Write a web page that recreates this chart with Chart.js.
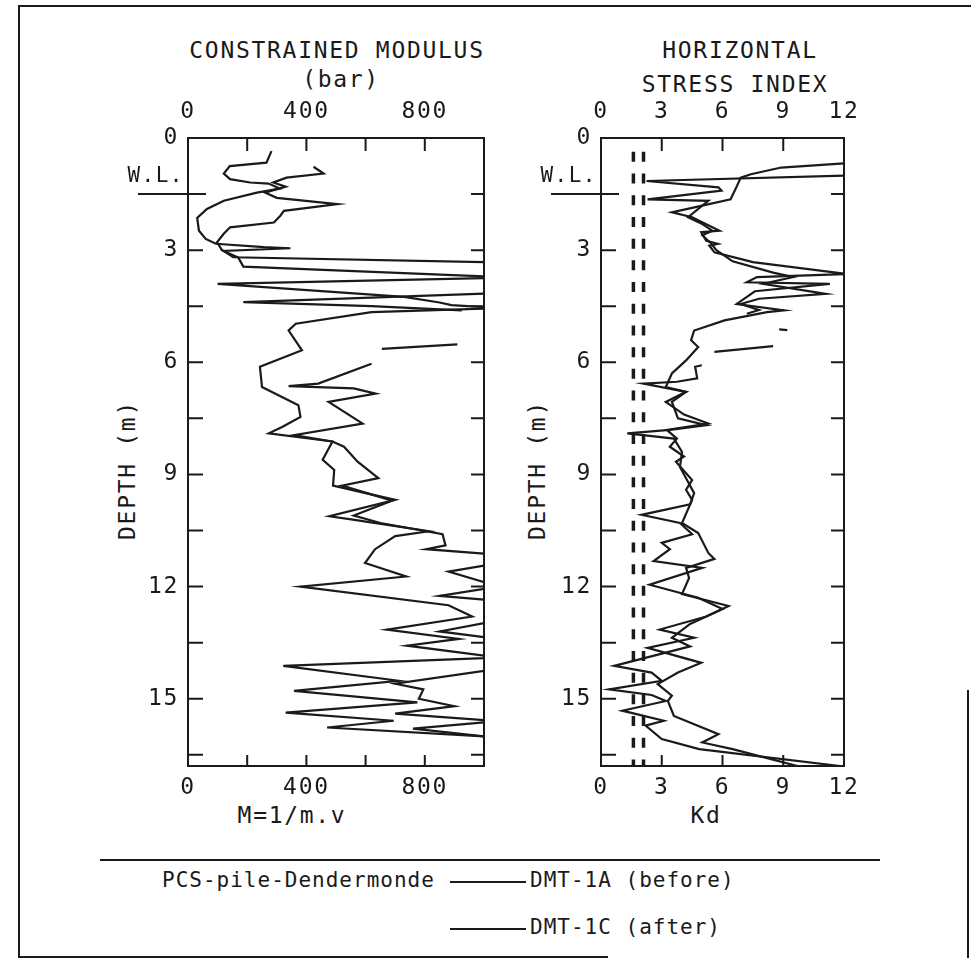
<!DOCTYPE html>
<html>
<head>
<meta charset="utf-8">
<script src="https://cdn.jsdelivr.net/npm/chart.js@4.4.0/dist/chart.umd.min.js"></script>
<style>
  body { margin: 0; background: #fff; }
  #page { position: relative; width: 971px; height: 966px; overflow: hidden;
          font-family: 'DejaVu Sans Mono', monospace; color: #1a1a1a; }
  .t { position: absolute; font-size: 23px; letter-spacing: 1.7px; white-space: nowrap;
       line-height: 1; transform: translate(-50%, -50%); }
  .leg { font-size: 21px; letter-spacing: 1px; }
  .l { transform: translate(0, -50%); }
  .rot { transform: translate(-50%, -50%) rotate(-90deg); }
  .rule { position: absolute; background: #1a1a1a; }
  canvas { position: absolute; top: 0; }
</style>
</head>
<body>
<div id="page">
  <div class="rule" style="left:20px;top:5px;width:951px;height:2px"></div>
  <div class="rule" style="left:18px;top:5px;width:2px;height:953px"></div>
  <div class="rule" style="left:18px;top:956px;width:590px;height:2px"></div>
  <div class="rule" style="left:967px;top:690px;width:2px;height:268px"></div>

  <div class="t" style="left:337px;top:50px">CONSTRAINED MODULUS</div>
  <div class="t" style="left:341px;top:79px">(bar)</div>
  <div class="t" style="left:740px;top:50px">HORIZONTAL</div>
  <div class="t" style="left:735px;top:84px">STRESS INDEX</div>
  <div class="t" style="left:292px;top:815px">M=1/m.v</div>
  <div class="t" style="left:706px;top:815px">Kd</div>
  <div class="t rot" style="left:127px;top:470px">DEPTH (m)</div>
  <div class="t rot" style="left:537px;top:470px">DEPTH (m)</div>

  <div class="rule" style="left:100px;top:859px;width:780px;height:2px"></div>
  <div class="t leg l" style="left:162px;top:880px">PCS-pile-Dendermonde</div>
  <div class="rule" style="left:450px;top:881px;width:76px;height:2px"></div>
  <div class="t leg l" style="left:530px;top:880px">DMT-1A (before)</div>
  <div class="rule" style="left:450px;top:928px;width:76px;height:2px"></div>
  <div class="t leg l" style="left:530px;top:927px">DMT-1C (after)</div>

  <canvas id="modChart" width="520" height="840" style="left:0"></canvas>
  <canvas id="kdChart" width="420" height="840" style="left:520px"></canvas>
</div>

<script>
// tick labels and tick marks
const depthTicks = [0, 3, 6, 9, 12, 15];
const depthMarks = [1.5, 3, 4.5, 6, 7.5, 9, 10.5, 12, 13.5, 15, 16.5];
const modTicks = [0, 400, 800];
const modMarks = [200, 400, 600, 800];
const kdTicks = [0, 3, 6, 9, 12];
const kdMarks = [3, 6, 9];
const waterLevel = 1.5;

// constrained modulus M (bar) vs depth (m)
const depthModA = [0.35, 0.66, 0.75, 0.95, 1.10, 1.19, 1.22, 1.35, 1.46, 1.68, 1.90, 2.14, 2.48, 2.70, 2.83, 2.92,
  2.95, 3.02, 3.19, 3.33, 3.74, 3.90, 4.25, 4.40, 4.47, 4.55, 4.66, 4.97, 5.15, 5.68, 6.12, 6.66, 7.15, 7.46,
  7.73, 7.90, 8.12, 8.61, 8.88, 9.30, 9.50, 9.68, 10.12, 10.20, 10.52, 10.65, 11.00, 11.37, 11.73, 12.00,
  12.50, 12.80, 13.15, 13.40, 13.58, 13.90, 14.12, 14.52, 14.79, 15.10, 15.37, 15.59, 15.77, 16.03];
const modA = [282, 265, 141, 121, 142, 210, 272, 310, 233, 121, 64, 31, 37, 60, 94, 256,
  346, 120, 153, 1050, 1050, 100, 730, 850, 890, 1050, 620, 364, 340, 385, 243, 250, 373, 380,
  318, 273, 488, 455, 494, 490, 600, 700, 478, 551, 814, 700, 632, 598, 737, 380,
  880, 960, 672, 915, 740, 1050, 322, 712, 358, 775, 330, 695, 470, 1050];

const depthModC = [0.77, 0.95, 1.06, 1.19, 1.30, 1.46, 1.60, 1.77, 1.95, 2.08, 2.26, 2.39, 2.57, 2.79, 3.00, 3.20,
  3.44, 3.72, 4.15, 4.39, 4.50, 4.61, null, 5.64, 5.52, null, 6.04, 6.57, 6.64, 6.70, 6.84, 7.06, 7.64, 7.95,
  8.12, 8.26, 8.66, 9.10, 9.30, 9.70, 10.10, 10.30, 10.60, 10.90, 11.00, 11.15, 11.37, 11.60, 12.00, 12.25,
  12.35, 12.90, 13.20, 13.40, 13.90, 14.20, 14.60, 14.75, 15.00, 15.20, 15.40, 15.60, 15.80, 16.05];
const modC = [424, 458, 333, 288, 330, 260, 300, 505, 324, 312, 290, 142, 120, 98, 115, 170,
  187, 1050, 1050, 187, 620, 925, null, 655, 910, null, 620, 440, 340, 560, 634, 475, 590, 357,
  488, 527, 573, 643, 520, 690, 560, 650, 860, 870, 805, 1050, 1050, 880, 1050, 850,
  1000, 1050, 850, 1050, 1050, 1050, 700, 795, 780, 900, 700, 1050, 760, 1050];

// horizontal stress index Kd vs depth (m)
const depthKdA = [0.66, 0.79, 0.97, 1.06, 1.30, 1.64, 1.99, 2.12, 2.48, 2.52, 2.75, 2.83, 2.88, 3.06, 3.32, 3.64,
  3.72, 3.86, 3.90, 4.10, 4.44, 4.61, 4.66, 4.88, 5.15, 5.41, 5.59, 5.95, 6.30, 6.66, 6.79, 7.06, 7.40, 7.64,
  7.81, 8.04, 8.26, 8.52, 8.66, 9.15, 9.41, 9.68, 10.30, 10.57, 11.10, 11.26, 11.50, 11.77, 12.20, 12.52,
  12.80, 13.15, 13.37, 13.64, 14.04, 14.30, 14.61, 14.92, 15.06, 15.46, 15.95, 16.17, 16.35, 16.80];
const kdA = [12.5, 8.9, 7.4, 6.9, 6.7, 6.4, 3.5, 4.5, 5.85, 4.95, 5.2, 5.77, 5.35, 5.6, 7.5, 12.2,
  7.7, 7.2, 11.3, 7.6, 6.7, 9.05, 8.2, 6.1, 4.6, 4.45, 4.8, 4.2, 3.5, 3.2, 4.2, 3.2, 4.1, 5.3,
  3.25, 3.75, 3.4, 4.1, 3.7, 4.5, 4.2, 4.5, 4.0, 4.8, 5.3, 5.6, 4.2, 4.35, 4.0, 6.3,
  5.2, 2.9, 4.6, 2.3, 4.95, 3.8, 2.8, 3.5, 3.3, 3.6, 5.8, 5.0, 6.5, 9.7];

const depthKdC = [1.00, 1.15, 1.32, 1.41, 1.64, 1.68, 1.81, 2.12, 2.30, 2.48, 2.60, 2.80, 3.00, 3.30, 3.60, 3.72,
  3.90, 4.17, 4.30, 4.44, 4.60, 4.70, null, 5.12, 5.14, null, 5.72, 5.57, null, 6.08, 6.12, 6.43, 6.52, 6.57,
  6.79, 7.06, 7.50, 7.68, 7.81, 7.90, 8.04, 8.40, 8.80, 9.20, 9.50, 9.80, 10.08, 10.30, 10.60, 10.83, 11.00,
  11.32, 11.50, 11.95, 12.30, 12.60, 13.00, 13.37, 13.60, 14.12, 14.30, 14.52, 14.75, 14.90, 15.06, 15.32,
  15.59, 15.72, 16.08, 16.35, 16.80];
const kdC = [12.5, 2.25, 5.8, 5.95, 2.3, 5.3, 5.0, 4.3, 5.0, 5.5, 5.0, 5.4, 5.7, 6.5, 8.5, 9.5,
  8.0, 11.1, 7.8, 6.9, 7.8, 7.2, null, 8.8, 9.2, null, 5.6, 8.5, null, 4.98, 4.65, 4.75, 3.75, 2.1,
  4.2, 3.5, 3.8, 5.2, 3.4, 1.3, 3.6, 4.0, 3.9, 4.3, 4.6, 4.4, 2.0, 3.9, 4.5, 3.0, 3.4,
  2.6, 5.0, 2.4, 4.8, 6.0, 4.4, 3.5, 4.4, 0.65, 2.5, 3.0, 0.4, 2.5, 3.2, 1.05,
  3.1, 2.2, 3.0, 4.85, 11.8];

// reference Kd lines (dashed)
const kdRef = [1.6, 2.1];
const kdRefDepth = [0.37, 16.8];

const INK = '#1a1a1a';
Chart.defaults.font.family = "'DejaVu Sans Mono', monospace";
Chart.defaults.font.size = 23;
Chart.defaults.color = INK;

function points(depths, values) {
    return depths.map((d, i) => ({ x: values[i], y: d }));
}

function profile(label, depths, values) {
    return {
        label: label,
        data: points(depths, values),
        showLine: true,
        borderColor: INK,
        borderWidth: 2.2,
        pointRadius: 0,
        spanGaps: false
    };
}

// box, inward tick marks and the water level marker
const frame = {
    id: 'frame',
    beforeDraw(chart) {
        chart.ctx.letterSpacing = '1.7px';
    },
    afterDraw(chart, args, opts) {
        const { ctx, chartArea: a, scales } = chart;
        ctx.save();
        ctx.strokeStyle = INK;
        ctx.lineWidth = 2;
        ctx.strokeRect(a.left, a.top, a.right - a.left, a.bottom - a.top);
        ctx.beginPath();
        opts.xMarks.forEach(v => {
            const px = scales.x.getPixelForValue(v);
            ctx.moveTo(px, a.top); ctx.lineTo(px, a.top + 13);
            ctx.moveTo(px, a.bottom); ctx.lineTo(px, a.bottom - 11);
        });
        depthMarks.forEach(v => {
            const py = scales.y.getPixelForValue(v);
            if (v !== waterLevel) { ctx.moveTo(a.left, py); ctx.lineTo(a.left + 15, py); }
            ctx.moveTo(a.right, py); ctx.lineTo(a.right - 13, py);
        });
        ctx.stroke();

        const wy = scales.y.getPixelForValue(waterLevel);
        ctx.beginPath();
        ctx.moveTo(a.left - 50, wy); ctx.lineTo(a.left + 18, wy);
        ctx.stroke();
        ctx.fillStyle = INK;
        ctx.font = "21px 'DejaVu Sans Mono'";
        ctx.letterSpacing = '1.5px';
        ctx.textAlign = 'right';
        ctx.textBaseline = 'bottom';
        ctx.fillText('W.L.', a.left - 4, wy - 7);
        ctx.restore();
    }
};

function makeChart(id, cfg) {
    const fixed = (list) => (s) => { s.ticks = list.map(v => ({ value: v })); };
    return new Chart(document.getElementById(id), {
        type: 'scatter',
        data: { datasets: cfg.datasets },
        options: {
            responsive: false,
            animation: false,
            layout: { padding: { left: 0, right: cfg.padRight, top: 0, bottom: 0 } },
            scales: {
                x: {
                    type: 'linear', position: 'bottom', min: 0, max: cfg.xMax,
                    grid: { display: false, drawTicks: false }, border: { display: false },
                    ticks: { padding: 8 },
                    afterBuildTicks: fixed(cfg.xTicks),
                    afterFit: (s) => { s.height = 74; }
                },
                xTop: {
                    type: 'linear', position: 'top', min: 0, max: cfg.xMax,
                    grid: { display: false, drawTicks: false }, border: { display: false },
                    ticks: { padding: 12 },
                    afterBuildTicks: fixed(cfg.xTicks),
                    afterFit: (s) => { s.height = 138; }
                },
                y: {
                    type: 'linear', position: 'left', reverse: true, min: 0, max: 16.8,
                    grid: { display: false, drawTicks: false }, border: { display: false },
                    ticks: { padding: 9 },
                    afterBuildTicks: fixed(depthTicks),
                    afterFit: (s) => { s.width = cfg.yWidth; }
                }
            },
            plugins: {
                legend: { display: false },
                tooltip: { enabled: false },
                frame: { xMarks: cfg.xMarks }
            }
        },
        plugins: [frame]
    });
}

makeChart('modChart', {
    xMax: 1000, xTicks: modTicks, xMarks: modMarks, yWidth: 188, padRight: 36,
    datasets: [
        profile('DMT-1A (before)', depthModA, modA),
        profile('DMT-1C (after)', depthModC, modC)
    ]
});

const refLines = kdRef.map(k => ({
    label: 'Kd ref',
    data: kdRefDepth.map(d => ({ x: k, y: d })),
    showLine: true,
    borderColor: INK,
    borderWidth: 3.5,
    borderDash: [10, 11.7],
    pointRadius: 0
}));

makeChart('kdChart', {
    xMax: 12, xTicks: kdTicks, xMarks: kdMarks, yWidth: 81, padRight: 96,
    datasets: [
        profile('DMT-1A (before)', depthKdA, kdA),
        profile('DMT-1C (after)', depthKdC, kdC)
    ].concat(refLines)
});
</script>
</body>
</html>
